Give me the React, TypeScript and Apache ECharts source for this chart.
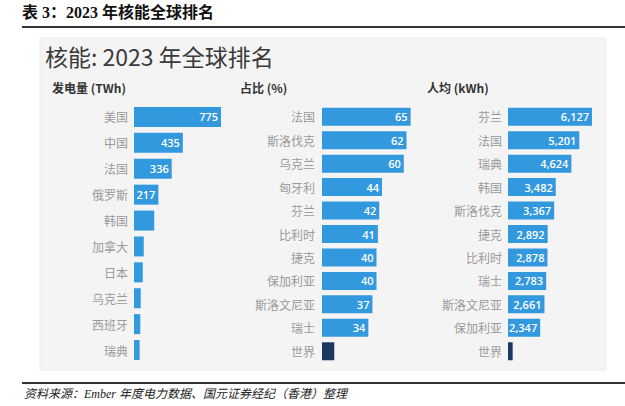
import React, { useEffect, useRef } from "react";
import * as echarts from "echarts";

const genCats = ["美国", "中国", "法国", "俄罗斯", "韩国", "加拿大", "日本", "乌克兰", "西班牙", "瑞典"];
const genVals = [775, 435, 336, 217, 180, 87, 78, 60, 56, 50];
const genShowLabel = [true, true, true, true, false, false, false, false, false, false];

const shareCats = ["法国", "斯洛伐克", "乌克兰", "匈牙利", "芬兰", "比利时", "捷克", "保加利亚", "斯洛文尼亚", "瑞士", "世界"];
const shareVals = [65, 62, 60, 44, 42, 41, 40, 40, 37, 34, 9];

const perCats = ["芬兰", "法国", "瑞典", "韩国", "斯洛伐克", "捷克", "比利时", "瑞士", "斯洛文尼亚", "保加利亚", "世界"];
const perVals = [6127, 5201, 4624, 3482, 3367, 2892, 2878, 2783, 2661, 2347, 340];

const BLUE = "#3399de";
const NAVY = "#1d3763";
const CJK = "'Noto Sans CJK SC', 'Noto Sans', sans-serif";

export default function App() {
  const ref = useRef<HTMLDivElement>(null);
  useEffect(() => {
    if (!ref.current) return;
    const chart = echarts.init(ref.current, undefined, { renderer: "svg" });
    const fmt = (v: number) => v.toLocaleString("en-US");
    const mkData = (cats: string[], vals: number[], show: (i: number) => boolean) =>
      vals.map((v, i) => ({
        value: v,
        itemStyle: { color: cats[i] === "世界" ? NAVY : BLUE },
        label: { show: show(i) },
      }));
    const yAxisBase = (idx: number, cats: string[], margin: number) => ({
      type: "category" as const,
      gridIndex: idx,
      data: cats,
      inverse: true,
      axisLine: { show: false },
      axisTick: { show: false },
      axisLabel: { color: "#9a9a9a", fontSize: 12, margin, fontFamily: CJK },
    });
    const xAxisBase = (idx: number) => ({
      type: "value" as const,
      gridIndex: idx,
      min: 0,
      max: "dataMax" as const,
      show: false,
    });
    const labelBase = {
      position: "insideRight" as const,
      color: "#ffffff",
      fontSize: 11,
      fontWeight: 600 as const,
      fontFamily: "'Open Sans', sans-serif",
      distance: 3,
    };
    chart.setOption({
      animation: false,
      backgroundColor: "#ffffff",
      graphic: [
        {
          type: "text",
          left: 22,
          top: 4,
          style: {
            text: "表 3：2023 年核能全球排名",
            font: "bold 16px 'Liberation Serif', 'Noto Sans CJK SC', serif",
            fill: "#111",
          },
        },
        { type: "rect", shape: { x: 22, y: 26, width: 603, height: 2 }, style: { fill: "#333" } },
        {
          type: "rect",
          shape: { x: 40, y: 38, width: 566, height: 332 },
          style: { fill: "#f4f4f4", stroke: "#ececec", lineWidth: 1 },
          z: -10,
        },
        {
          type: "text",
          left: 45,
          top: 44,
          style: { text: "核能: 2023 年全球排名", font: `normal 23px ${CJK}`, fill: "#3a3a3a" },
        },
        { type: "text", left: 52, top: 81, style: { text: "发电量 (TWh)", font: `bold 12px ${CJK}`, fill: "#333" } },
        { type: "text", left: 240, top: 81, style: { text: "占比 (%)", font: `bold 12px ${CJK}`, fill: "#333" } },
        { type: "text", left: 427, top: 81, style: { text: "人均 (kWh)", font: `bold 12px ${CJK}`, fill: "#333" } },
        { type: "rect", shape: { x: 22, y: 382, width: 603, height: 2 }, style: { fill: "#333" } },
        {
          type: "text",
          left: 24,
          top: 388,
          style: {
            text: "资料来源：Ember 年度电力数据、国元证券经纪（香港）整理",
            font: "italic 12px 'Liberation Serif', 'Noto Sans CJK SC', serif",
            fill: "#222",
          },
        },
      ],
      grid: [
        { left: 134, top: 104, width: 87, height: 259 },
        { left: 322, top: 105, width: 88.6, height: 258 },
        { left: 508, top: 105, width: 84, height: 258 },
      ],
      xAxis: [xAxisBase(0), xAxisBase(1), xAxisBase(2)],
      yAxis: [yAxisBase(0, genCats, 6), yAxisBase(1, shareCats, 7), yAxisBase(2, perCats, 6)],
      series: [
        {
          type: "bar",
          xAxisIndex: 0,
          yAxisIndex: 0,
          barWidth: 20,
          data: mkData(genCats, genVals, (i) => genShowLabel[i]),
          label: { ...labelBase },
        },
        {
          type: "bar",
          xAxisIndex: 1,
          yAxisIndex: 1,
          barWidth: 18,
          data: mkData(shareCats, shareVals, (i) => shareCats[i] !== "世界"),
          label: { ...labelBase },
        },
        {
          type: "bar",
          xAxisIndex: 2,
          yAxisIndex: 2,
          barWidth: 18,
          data: mkData(perCats, perVals, (i) => perCats[i] !== "世界"),
          label: { ...labelBase, formatter: (p: any) => fmt(p.value) },
        },
      ],
    });
    return () => chart.dispose();
  }, []);
  return <div ref={ref} style={{ position: "fixed", left: 0, top: 0, width: 625, height: 406 }} />;
}
